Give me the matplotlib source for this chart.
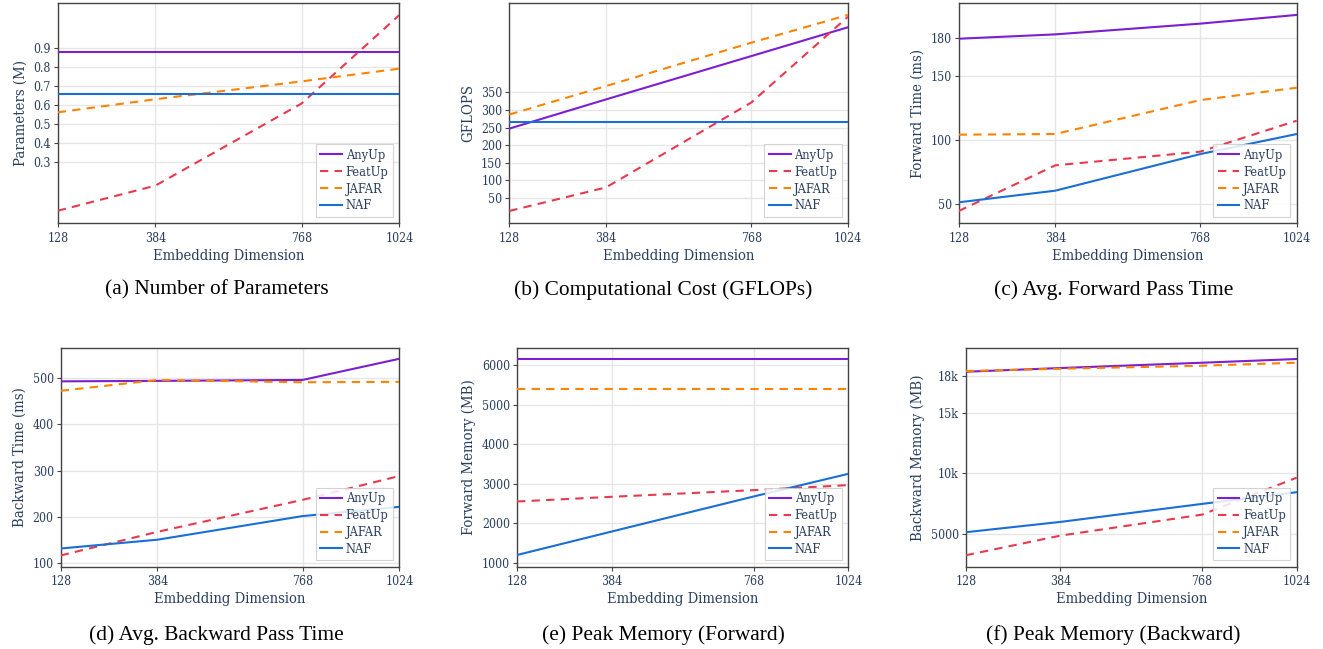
import matplotlib
matplotlib.use("Agg")
import matplotlib.pyplot as plt
from matplotlib import font_manager
from matplotlib.ticker import FixedLocator, FixedFormatter

W, H = 1323, 649

dims = [128, 384, 768, 1024]
methods = ["AnyUp", "FeatUp", "JAFAR", "NAF"]
colors = {"AnyUp": "#7b1fd0", "FeatUp": "#e8394f", "JAFAR": "#ff8200", "NAF": "#1a6fd6"}
styles = {"AnyUp": "-", "FeatUp": (0, (4, 3)), "JAFAR": (0, (4, 3)), "NAF": "-"}

# (a) Parameters (M)
params_anyup = [0.879, 0.879, 0.879, 0.879]
params_featup = [0.045, 0.177, 0.61, 1.075]
params_jafar = [0.563, 0.632, 0.726, 0.793]
params_naf = [0.662, 0.662, 0.662, 0.662]

# (b) GFLOPS
gflops_anyup = [247, 330, 453, 535]
gflops_featup = [13, 80, 321, 565]
gflops_jafar = [287, 368, 491, 570]
gflops_naf = [266, 266, 266, 266]

# (c) Forward time (ms)
fwd_anyup = [179.2, 182.6, 191.0, 197.8]
fwd_featup = [44.5, 80.2, 90.9, 115.1]
fwd_jafar = [104.2, 104.7, 131.2, 140.9]
fwd_naf = [51.3, 60.4, 89.0, 104.7]

# (d) Backward time (ms)
bwd_anyup = [493, 494, 496, 541.7]
bwd_featup = [117, 168, 237, 288.5]
bwd_jafar = [472.6, 496, 491, 492]
bwd_naf = [132, 151, 202, 222]

# (e) Forward memory (MB)
fmem_anyup = [6152, 6152, 6152, 6152]
fmem_featup = [2553, 2672, 2840, 2967]
fmem_jafar = [5404, 5404, 5404, 5404]
fmem_naf = [1202, 1795, 2680, 3252]

# (f) Backward memory (MB)
bmem_anyup = [18354, 18658, 19095, 19400]
bmem_featup = [3272, 4885, 6613, 9650]
bmem_jafar = [18411, 18600, 18850, 19095]
bmem_naf = [5165, 6012, 7494, 8457]

panels = [
    dict(series=[params_anyup, params_featup, params_jafar, params_naf],
         ylabel="Parameters (M)", yticks=[0.3, 0.4, 0.5, 0.6, 0.7, 0.8, 0.9],
         yticklabels=["0.3", "0.4", "0.5", "0.6", "0.7", "0.8", "0.9"],
         ylim=(-0.021, 1.137), caption="(a) Number of Parameters",
         box=(57.7, 3.3, 399.3, 223.3), cap=(216.5, 290)),
    dict(series=[gflops_anyup, gflops_featup, gflops_jafar, gflops_naf],
         ylabel="GFLOPS", yticks=[50, 100, 150, 200, 250, 300, 350],
         yticklabels=["50", "100", "150", "200", "250", "300", "350"],
         ylim=(-22, 603), caption="(b) Computational Cost (GFLOPs)",
         box=(509.3, 3.3, 848.0, 223.3), cap=(663.5, 290)),
    dict(series=[fwd_anyup, fwd_featup, fwd_jafar, fwd_naf],
         ylabel="Forward Time (ms)", yticks=[50, 100, 150, 180],
         yticklabels=["50", "100", "150", "180"],
         ylim=(34.9, 206.9), caption="(c) Avg. Forward Pass Time",
         box=(958.7, 3.3, 1296.7, 223.3), cap=(1113.5, 290)),
    dict(series=[bwd_anyup, bwd_featup, bwd_jafar, bwd_naf],
         ylabel="Backward Time (ms)", yticks=[100, 200, 300, 400, 500],
         yticklabels=["100", "200", "300", "400", "500"],
         ylim=(92.7, 565), caption="(d) Avg. Backward Pass Time",
         box=(60.7, 348.0, 399.3, 566.7), cap=(216.5, 635)),
    dict(series=[fmem_anyup, fmem_featup, fmem_jafar, fmem_naf],
         ylabel="Forward Memory (MB)", yticks=[1000, 2000, 3000, 4000, 5000, 6000],
         yticklabels=["1000", "2000", "3000", "4000", "5000", "6000"],
         ylim=(907, 6429), caption="(e) Peak Memory (Forward)",
         box=(517.0, 348.0, 848.3, 566.7), cap=(663.5, 635)),
    dict(series=[bmem_anyup, bmem_featup, bmem_jafar, bmem_naf],
         ylabel="Backward Memory (MB)", yticks=[5000, 10000, 15000, 18000],
         yticklabels=["5000", "10k", "15k", "18k"],
         ylim=(2333, 20305), caption="(f) Peak Memory (Backward)",
         box=(965.7, 348.0, 1296.7, 566.7), cap=(1113.5, 635)),
]

text_color = "#2a3f5f"

# Prefer DejaVu Serif Condensed if installed
cond_path = None
for f in font_manager.findSystemFonts():
    if f.endswith("DejaVuSerifCondensed.ttf"):
        cond_path = f
        break


def fp(size):
    if cond_path:
        return font_manager.FontProperties(fname=cond_path, size=size)
    return font_manager.FontProperties(family="DejaVu Serif", size=size)


fig = plt.figure(figsize=(W / 100, H / 100), dpi=100)
fig.patch.set_facecolor("white")

for p in panels:
    x0, y0, x1, y1 = p["box"]
    ax = fig.add_axes([x0 / W, 1 - y1 / H, (x1 - x0) / W, (y1 - y0) / H])
    for name, vals in zip(methods, p["series"]):
        ax.plot(dims, vals, color=colors[name], linestyle=styles[name],
                linewidth=1.5, label=name, zorder=3)
    ax.set_xlim(128, 1024)
    ax.set_ylim(*p["ylim"])
    ax.xaxis.set_major_locator(FixedLocator(dims))
    ax.xaxis.set_major_formatter(FixedFormatter([str(d) for d in dims]))
    ax.yaxis.set_major_locator(FixedLocator(p["yticks"]))
    ax.yaxis.set_major_formatter(FixedFormatter(p["yticklabels"]))
    ax.grid(True, color="#e6e6e6", linewidth=1.0, zorder=0)
    ax.set_axisbelow(True)
    for sp in ax.spines.values():
        sp.set_color("#444444")
        sp.set_linewidth(1.0)
    ax.tick_params(axis="both", direction="out", length=3, width=0.8,
                   color="#444444", labelcolor=text_color, pad=2)
    ax.tick_params(axis="x", pad=3)
    for lab in ax.get_xticklabels() + ax.get_yticklabels():
        lab.set_fontproperties(fp(8.8))
    ax.set_xlabel("Embedding Dimension", color=text_color,
                  fontproperties=fp(10.6), labelpad=3)
    ax.set_ylabel(p["ylabel"], color=text_color,
                  fontproperties=fp(10.7), labelpad=4)
    leg = ax.legend(loc="lower right", frameon=True, fancybox=False,
                    prop=fp(9.2),
                    labelcolor=text_color, handlelength=1.7,
                    borderaxespad=0.5, borderpad=0.35, labelspacing=0.3,
                    handletextpad=0.3)
    leg.get_frame().set_edgecolor("#cccccc")
    leg.get_frame().set_linewidth(0.8)
    leg.get_frame().set_alpha(0.85)
    cx, cyp = p["cap"]
    fig.text(cx / W, 1 - cyp / H, p["caption"], ha="center", va="center",
             fontsize=15.4, family=["Liberation Serif"], color="black")

fig.savefig("out.png", dpi=100)
